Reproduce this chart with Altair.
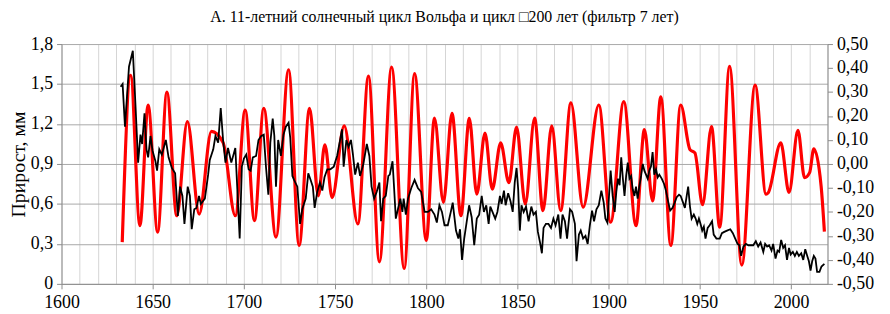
import altair as alt
import pandas as pd

# Black series: tree-ring growth, mm (left axis)
black_years = [1632.4, 1633.5, 1634.8, 1637.0, 1639.1, 1640.6, 1642.0, 1643.3, 1644.2, 1645.5,
               1646.6, 1647.5, 1648.8, 1649.9, 1651.5, 1652.4, 1653.6, 1655.0, 1657.2, 1658.7,
               1660.5, 1662.3, 1663.8, 1665.0, 1666.3, 1667.4, 1669.2, 1670.4, 1671.4, 1672.8,
               1674.0, 1675.4, 1676.4, 1678.6, 1680.4, 1681.3, 1683.2, 1684.4, 1685.9, 1687.3,
               1688.6, 1689.9, 1691.3, 1693.1, 1695.3, 1696.4, 1697.7, 1698.9, 1700.0, 1701.3,
               1702.6, 1703.7, 1704.9, 1706.7, 1708.0, 1709.5, 1710.9, 1712.1, 1713.4, 1714.5,
               1715.8, 1716.7, 1717.6, 1718.8, 1720.3, 1721.7, 1723.0, 1724.5, 1725.4, 1726.6,
               1727.5, 1729.3, 1730.8, 1732.0, 1733.9, 1735.3, 1736.6, 1737.8, 1738.8, 1740.2,
               1741.7, 1743.0, 1744.2, 1745.7, 1747.4, 1749.3, 1751.1, 1752.9, 1753.8, 1754.7,
               1756.2, 1757.4, 1758.7, 1759.8, 1761.0, 1762.5, 1763.7, 1765.5, 1767.4, 1768.8,
               1770.0, 1771.4, 1772.8, 1774.3, 1775.2, 1776.4, 1777.8, 1779.2, 1780.0, 1781.5,
               1782.4, 1783.3, 1784.6, 1785.8, 1786.9, 1787.6, 1788.8, 1790.0, 1791.8, 1793.6,
               1795.4, 1797.2, 1799.1, 1800.9, 1802.7, 1804.5, 1805.8, 1807.2, 1808.6, 1810.0,
               1811.8, 1813.6, 1814.5, 1816.3, 1817.6, 1818.5, 1819.6, 1820.8, 1822.1, 1823.5,
               1824.9, 1826.3, 1827.7, 1829.0, 1830.4, 1831.6, 1832.9, 1834.2, 1835.1, 1836.3,
               1837.8, 1839.0, 1840.4, 1841.3, 1842.6, 1843.5, 1844.9, 1846.2, 1847.4, 1848.5,
               1849.5, 1850.4, 1851.3, 1852.2, 1853.4, 1854.7, 1856.1, 1857.6, 1858.8, 1860.1,
               1861.2, 1862.4, 1863.4, 1864.3, 1865.6, 1867.0, 1868.4, 1869.7, 1870.9, 1872.4,
               1873.6, 1874.7, 1876.0, 1877.2, 1878.8, 1880.0, 1881.5, 1882.4, 1883.7, 1884.7,
               1886.0, 1887.3, 1888.5, 1889.7, 1890.9, 1892.0, 1893.3, 1894.6, 1896.0, 1897.3,
               1898.2, 1899.3, 1900.2, 1901.1, 1902.2, 1903.3, 1904.2, 1905.1, 1906.0, 1906.9,
               1907.8, 1908.7, 1909.6, 1910.5, 1911.4, 1912.3, 1913.2, 1914.1, 1915.0, 1915.9,
               1916.8, 1917.8, 1918.7, 1919.6, 1920.5, 1921.4, 1922.3, 1923.2, 1924.1, 1925.0,
               1926.0, 1926.9, 1927.8, 1929.1, 1930.4, 1931.4, 1932.3, 1933.7, 1935.0, 1936.2,
               1937.3, 1938.6, 1939.5, 1940.8, 1941.8, 1942.8, 1943.6, 1944.6, 1945.5, 1946.7,
               1947.7, 1948.6, 1949.5, 1950.4, 1951.3, 1952.2, 1953.1, 1954.3, 1955.4, 1956.7,
               1957.6, 1959.1, 1960.9, 1962.1, 1963.4, 1964.9, 1966.7, 1968.1, 1969.4, 1970.7,
               1971.7, 1972.6, 1973.9, 1975.3, 1976.6, 1977.8, 1979.3, 1980.7, 1982.0, 1983.3,
               1984.8, 1985.8, 1986.9, 1988.0, 1989.3, 1990.2, 1991.5, 1992.6, 1993.5, 1994.6,
               1995.7, 1996.7, 1997.8, 1998.9, 1999.8, 2001.0, 2002.1, 2003.2, 2004.3, 2005.6,
               2006.7, 2007.8, 2008.9, 2009.8, 2010.7, 2011.6, 2012.5, 2013.4, 2014.3, 2015.6,
               2016.7, 2018.3]
black_growth = [1.48, 1.50, 1.18, 1.63, 1.75, 1.33, 0.91, 1.12, 1.05, 1.28,
                1.01, 0.95, 1.11, 1.00, 0.92, 0.85, 1.01, 0.97, 1.08, 0.95,
                0.87, 0.83, 0.51, 0.73, 0.66, 0.45, 0.73, 0.66, 0.41, 0.56,
                0.57, 0.66, 0.60, 0.64, 0.82, 0.93, 1.01, 1.11, 1.06, 1.32,
                1.08, 0.91, 1.02, 0.91, 1.02, 0.71, 0.34, 0.88, 0.94, 0.97,
                0.86, 0.85, 0.95, 0.96, 1.08, 1.11, 1.12, 0.88, 0.67, 1.06,
                1.24, 1.11, 0.73, 1.08, 0.96, 1.12, 1.18, 1.21, 1.10, 0.81,
                0.78, 0.73, 0.45, 0.56, 0.64, 0.83, 0.78, 0.73, 0.57, 0.69,
                0.76, 0.70, 0.80, 0.86, 0.86, 0.88, 0.96, 1.09, 1.16, 0.88,
                1.08, 1.03, 1.08, 0.97, 0.82, 0.91, 0.81, 0.90, 1.05, 0.96,
                0.73, 0.64, 0.69, 0.76, 0.47, 0.64, 0.66, 0.81, 0.82, 0.92,
                0.71, 0.49, 0.57, 0.64, 0.54, 0.64, 0.52, 0.64, 0.72, 0.78,
                0.72, 0.69, 0.54, 0.54, 0.56, 0.52, 0.46, 0.59, 0.54, 0.44,
                0.44, 0.55, 0.61, 0.40, 0.34, 0.41, 0.18, 0.34, 0.46, 0.59,
                0.50, 0.29, 0.49, 0.52, 0.66, 0.54, 0.59, 0.45, 0.58, 0.54,
                0.49, 0.54, 0.66, 0.60, 0.70, 0.59, 0.68, 0.62, 0.54, 0.76,
                0.87, 0.71, 0.40, 0.59, 0.54, 0.58, 0.47, 0.58, 0.52, 0.54,
                0.39, 0.31, 0.23, 0.42, 0.45, 0.45, 0.42, 0.49, 0.44, 0.52,
                0.34, 0.52, 0.47, 0.34, 0.56, 0.54, 0.45, 0.17, 0.37, 0.40,
                0.34, 0.36, 0.30, 0.44, 0.55, 0.47, 0.56, 0.59, 0.70, 0.61,
                0.49, 0.46, 0.66, 0.85, 0.66, 0.54, 0.69, 0.79, 0.74, 0.95,
                0.79, 0.66, 0.81, 0.91, 0.79, 0.81, 0.71, 0.66, 0.73, 0.64,
                0.73, 0.81, 0.90, 0.85, 0.82, 0.79, 0.85, 0.88, 0.99, 0.82,
                0.86, 0.80, 0.82, 0.79, 0.75, 0.70, 0.64, 0.55, 0.57, 0.61,
                0.65, 0.67, 0.66, 0.61, 0.57, 0.66, 0.73, 0.58, 0.49, 0.52,
                0.49, 0.45, 0.49, 0.45, 0.40, 0.43, 0.34, 0.42, 0.44, 0.47,
                0.37, 0.34, 0.34, 0.38, 0.39, 0.40, 0.41, 0.38, 0.34, 0.30,
                0.29, 0.21, 0.28, 0.30, 0.29, 0.29, 0.29, 0.32, 0.28, 0.31,
                0.24, 0.30, 0.28, 0.29, 0.25, 0.30, 0.19, 0.25, 0.24, 0.33,
                0.27, 0.29, 0.18, 0.27, 0.22, 0.24, 0.21, 0.24, 0.21, 0.23,
                0.18, 0.26, 0.21, 0.17, 0.10, 0.17, 0.21, 0.19, 0.09, 0.09,
                0.13, 0.15]

# Red series: Wolf cycle, filtered (right axis)
red_years = [1633.3, 1637.9, 1643.0, 1647.5, 1652.7, 1657.8, 1663.2, 1669.0, 1675.5, 1682.2,
             1688.6, 1695.3, 1700.7, 1705.8, 1710.9, 1717.6, 1724.5, 1730.3, 1736.0, 1740.8,
             1744.4, 1748.4, 1755.0, 1762.5, 1768.3, 1774.3, 1781.0, 1787.9, 1793.6, 1800.0,
             1804.5, 1809.4, 1814.1, 1819.0, 1823.6, 1827.7, 1832.2, 1836.2, 1840.8, 1845.3,
             1849.5, 1854.3, 1859.4, 1864.0, 1868.8, 1873.7, 1879.3, 1886.0, 1894.6, 1901.1,
             1908.3, 1915.0, 1919.6, 1924.1, 1928.6, 1934.1, 1939.5, 1944.6, 1947.3, 1951.5,
             1956.4, 1960.9, 1966.3, 1973.0, 1980.3, 1986.3, 1987.5, 1994.4, 1998.9, 2003.8,
             2007.4, 2010.2, 2012.5, 2016.5, 2018.3]
red_wolf = [-0.326, 0.370, -0.257, 0.246, -0.284, 0.300, -0.216, 0.177, -0.209, 0.136,
            0.089, -0.216, 0.225, -0.236, 0.232, -0.305, 0.393, -0.340, 0.232, -0.133,
            0.080, -0.140, 0.159, -0.250, 0.366, -0.408, 0.404, -0.436, 0.377, -0.319,
            0.191, -0.160, 0.211, -0.216, 0.190, -0.126, 0.129, -0.105, 0.088, -0.078,
            0.154, -0.167, 0.191, -0.195, 0.159, -0.195, 0.255, -0.180, 0.246, -0.243,
            0.260, -0.257, 0.143, -0.154, 0.280, -0.340, 0.246, 0.060, 0.046, -0.170,
            0.156, -0.264, 0.407, -0.422, 0.329, -0.126, -0.120, 0.088, -0.119, 0.140,
            -0.057, -0.036, 0.063, -0.092, -0.282]

x_grid_values = list(range(1600, 2021, 10))
left_values = [0, 0.3, 0.6, 0.9, 1.2, 1.5, 1.8]
right_values = [round(v / 10, 1) for v in range(-5, 6)]

title_text = "А.  11-летний солнечный цикл Вольфа и цикл \u25a1200 лет (фильтр 7 лет)"
FONT = "Liberation Serif, Times New Roman, DejaVu Serif, serif"

df_black = pd.DataFrame({"year": black_years, "growth": black_growth})
df_red = pd.DataFrame({"year": red_years, "wolf": red_wolf})

x_enc = alt.X(
    "year:Q",
    scale=alt.Scale(domain=[1600, 2020], nice=False, zero=False),
    axis=alt.Axis(
        values=x_grid_values,
        title="",
        grid=True,
        gridColor="#d4d4d4",
        gridWidth=1,
        labelExpr="datum.value % 50 == 0 ? toString(datum.value) : ''",
        tickOpacity={"condition": {"test": "datum.value % 50 == 0", "value": 1}, "value": 0},
        tickSize=5,
        labelPadding=5,
        labelFont=FONT,
        labelFontSize=18,
        labelFlush=False,
        labelOverlap=False,
    ),
)

red = alt.Chart(df_red).mark_line(
    color="#ff0000", strokeWidth=3.2, interpolate="monotone"
).encode(
    x=x_enc,
    y=alt.Y(
        "wolf:Q",
        scale=alt.Scale(domain=[-0.5, 0.5], nice=False, zero=False),
        axis=alt.Axis(
            orient="right",
            values=right_values,
            title="",
            grid=False,
            tickSize=5,
            labelPadding=4,
            labelFont=FONT,
            labelFontSize=18,
            labelExpr="(datum.value < -0.001 ? '-' : '') + replace(format(abs(datum.value), '.2f'), '.', ',')",
        ),
    ),
)

black = alt.Chart(df_black).mark_line(
    color="#000000", strokeWidth=1.8
).encode(
    x=x_enc,
    y=alt.Y(
        "growth:Q",
        scale=alt.Scale(domain=[0, 1.8], nice=False, zero=False),
        axis=alt.Axis(
            orient="left",
            values=left_values,
            title="Прирост, мм",
            titleFontSize=20,
            titleFontWeight="normal",
            titlePadding=2,
            grid=True,
            gridColor="#a8a8a8",
            tickSize=5,
            labelPadding=4,
            labelFont=FONT,
            labelFontSize=18,
            labelExpr="datum.value == 0 ? '0' : replace(format(datum.value, '.1f'), '.', ',')",
        ),
    ),
)

chart = alt.layer(red, black).resolve_scale(y="independent").properties(
    width=773,
    height=242,
    autosize=alt.AutoSizeParams(type="none"),
    padding={"left": 54, "top": 35, "right": 55, "bottom": 28},
    title=alt.TitleParams(
        text=title_text,
        font=FONT,
        fontSize=16,
        fontWeight="normal",
        color="#000000",
        anchor="middle",
        offset=10,
    ),
).configure_axis(
    labelFont=FONT,
    labelFontSize=18,
    labelColor="#000000",
    titleFont=FONT,
    titleColor="#000000",
    domainColor="#8c8c8c",
    tickColor="#8c8c8c",
).configure_view(
    strokeWidth=0
)

chart.save("out.html", embed_options={"renderer": "svg", "actions": False})
